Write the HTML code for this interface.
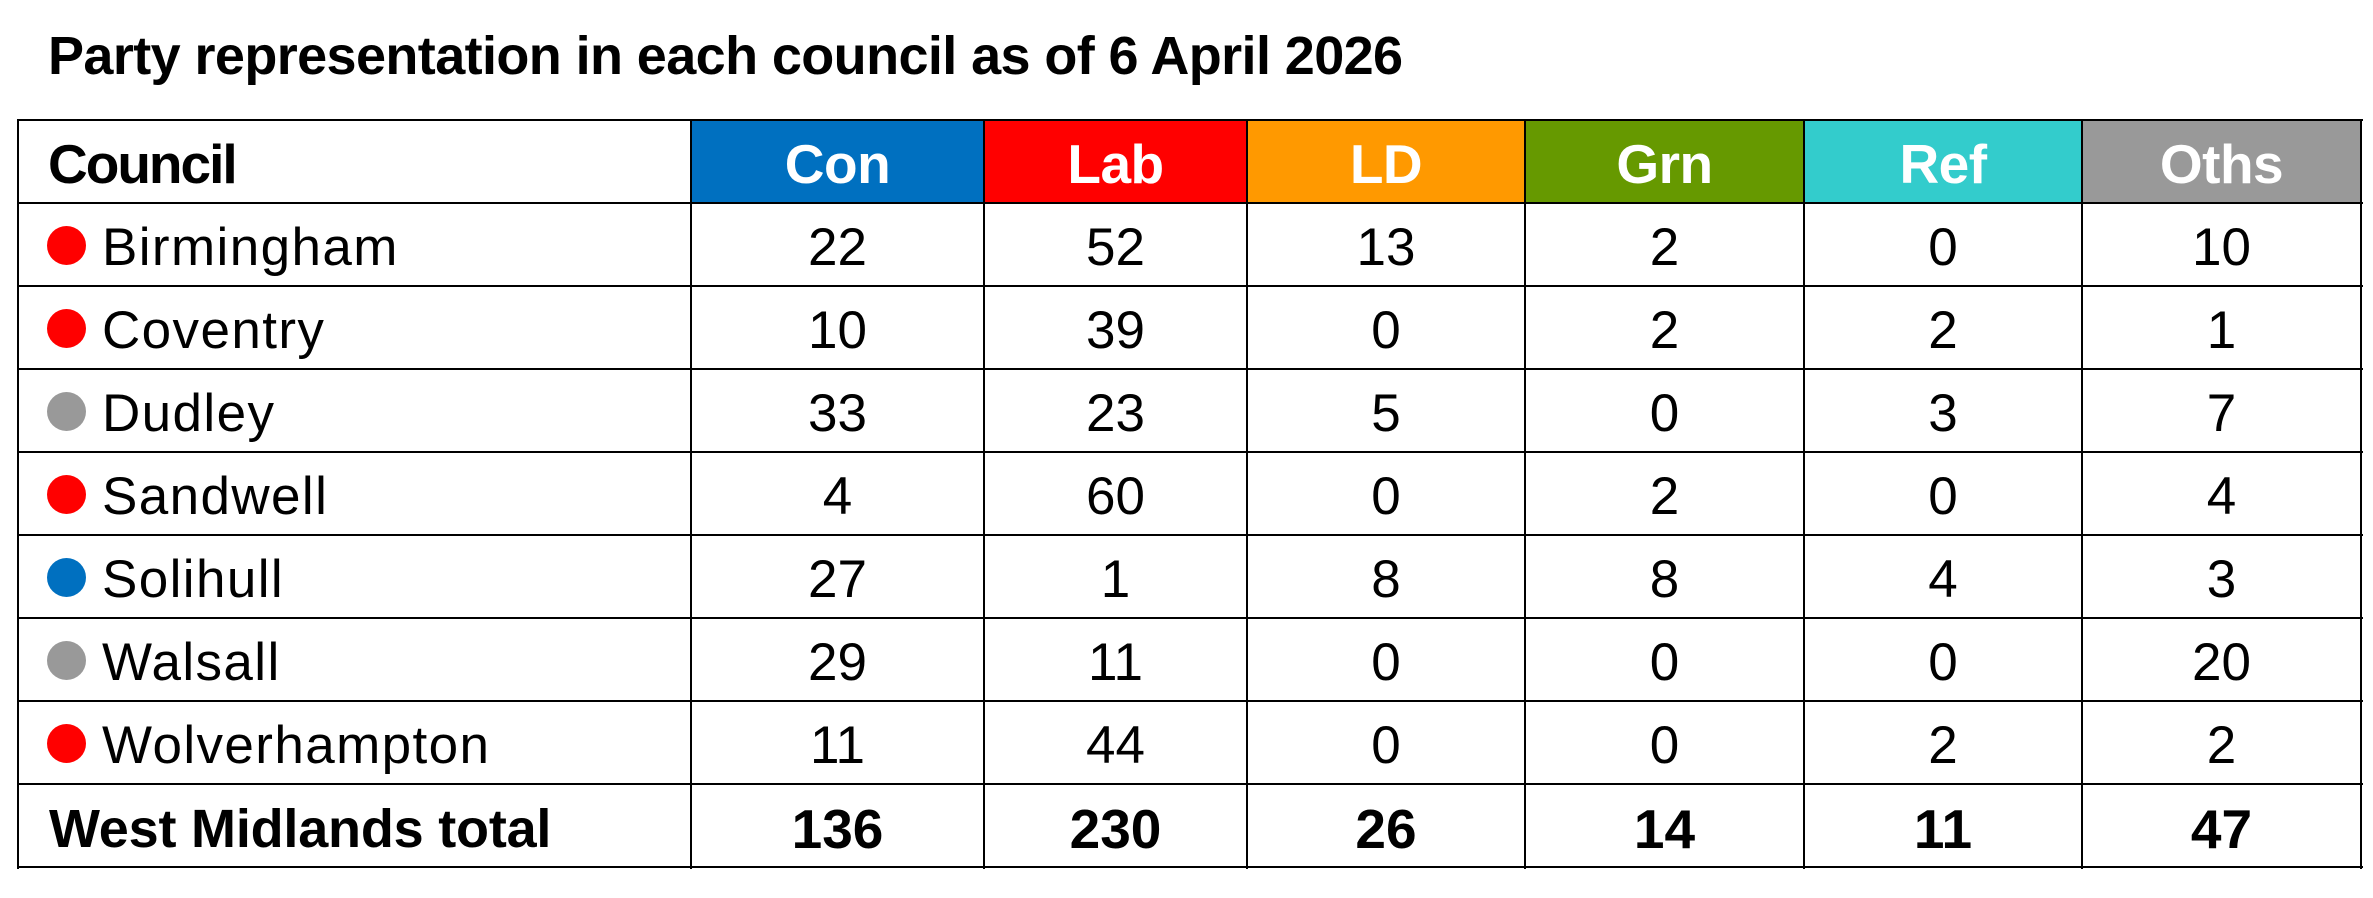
<!DOCTYPE html>
<html>
<head>
<meta charset="utf-8">
<style>
  html, body { margin:0; padding:0; background:#fff; }
  body { width:2373px; height:898px; position:relative; overflow:hidden; font-family:"Liberation Sans", Arial, sans-serif; color:#000; }
  .title { position:absolute; left:48px; top:29px; font-size:54px; line-height:54px; font-weight:bold; letter-spacing:-0.6px; white-space:nowrap; }
  .row { position:absolute; left:18px; height:83px; width:2343px; display:flex; }
  .c { height:83px; box-sizing:border-box; display:flex; align-items:center; justify-content:center; padding-top:6px; font-size:53px; white-space:nowrap; position:relative; }
  .w0 { width:673px; justify-content:flex-start; padding-left:84px; letter-spacing:1.4px; }
  .w1 { width:293px; } .w2 { width:263px; } .w3 { width:278px; } .w4 { width:279px; } .w5 { width:278px; } .w6 { width:279px; }
  .hdr .c { font-weight:bold; font-size:55px; color:#fff; padding-top:5px; letter-spacing:-0.5px; }
  .hdr .w0 { color:#000; letter-spacing:-2px; padding-left:30px; }
  .tot .c { font-weight:bold; font-size:55px; padding-top:6px; }
  .tot .w0 { font-size:54px; letter-spacing:-0.2px; padding-left:31px; }
  .dot { position:absolute; left:29px; top:23px; width:39px; height:39px; border-radius:50%; }
  .r { background:#ff0000; } .g { background:#999999; } .b { background:#0070c0; }
  .h { position:absolute; left:17px; width:2346px; height:2px; background:#000; }
  .v { position:absolute; top:119px; width:2px; height:750px; background:#000; }
</style>
</head>
<body>
<div class="title">Party representation in each council as of 6 April 2026</div>

<div class="row hdr" style="top:120px">
  <div class="c w0">Council</div>
  <div class="c w1" style="background:#0070c0">Con</div>
  <div class="c w2" style="background:#ff0000">Lab</div>
  <div class="c w3" style="background:#ff9900">LD</div>
  <div class="c w4" style="background:#669900">Grn</div>
  <div class="c w5" style="background:#33cccc">Ref</div>
  <div class="c w6" style="background:#999999">Oths</div>
</div>

<div class="row" style="top:203px">
  <div class="c w0"><span class="dot r"></span>Birmingham</div>
  <div class="c w1">22</div><div class="c w2">52</div><div class="c w3">13</div><div class="c w4">2</div><div class="c w5">0</div><div class="c w6">10</div>
</div>
<div class="row" style="top:286px">
  <div class="c w0"><span class="dot r"></span>Coventry</div>
  <div class="c w1">10</div><div class="c w2">39</div><div class="c w3">0</div><div class="c w4">2</div><div class="c w5">2</div><div class="c w6">1</div>
</div>
<div class="row" style="top:369px">
  <div class="c w0"><span class="dot g"></span>Dudley</div>
  <div class="c w1">33</div><div class="c w2">23</div><div class="c w3">5</div><div class="c w4">0</div><div class="c w5">3</div><div class="c w6">7</div>
</div>
<div class="row" style="top:452px">
  <div class="c w0"><span class="dot r"></span>Sandwell</div>
  <div class="c w1">4</div><div class="c w2">60</div><div class="c w3">0</div><div class="c w4">2</div><div class="c w5">0</div><div class="c w6">4</div>
</div>
<div class="row" style="top:535px">
  <div class="c w0"><span class="dot b"></span>Solihull</div>
  <div class="c w1">27</div><div class="c w2">1</div><div class="c w3">8</div><div class="c w4">8</div><div class="c w5">4</div><div class="c w6">3</div>
</div>
<div class="row" style="top:618px">
  <div class="c w0"><span class="dot g"></span>Walsall</div>
  <div class="c w1">29</div><div class="c w2">11</div><div class="c w3">0</div><div class="c w4">0</div><div class="c w5">0</div><div class="c w6">20</div>
</div>
<div class="row" style="top:701px">
  <div class="c w0"><span class="dot r"></span>Wolverhampton</div>
  <div class="c w1">11</div><div class="c w2">44</div><div class="c w3">0</div><div class="c w4">0</div><div class="c w5">2</div><div class="c w6">2</div>
</div>
<div class="row tot" style="top:784px">
  <div class="c w0">West Midlands total</div>
  <div class="c w1">136</div><div class="c w2">230</div><div class="c w3">26</div><div class="c w4">14</div><div class="c w5">11</div><div class="c w6">47</div>
</div>

<!-- horizontal grid lines -->
<div class="h" style="top:119px"></div>
<div class="h" style="top:202px"></div>
<div class="h" style="top:285px"></div>
<div class="h" style="top:368px"></div>
<div class="h" style="top:451px"></div>
<div class="h" style="top:534px"></div>
<div class="h" style="top:617px"></div>
<div class="h" style="top:700px"></div>
<div class="h" style="top:783px"></div>
<div class="h" style="top:866px"></div>

<!-- vertical grid lines -->
<div class="v" style="left:17px"></div>
<div class="v" style="left:690px"></div>
<div class="v" style="left:983px"></div>
<div class="v" style="left:1246px"></div>
<div class="v" style="left:1524px"></div>
<div class="v" style="left:1803px"></div>
<div class="v" style="left:2081px"></div>
<div class="v" style="left:2360px"></div>
</body>
</html>
